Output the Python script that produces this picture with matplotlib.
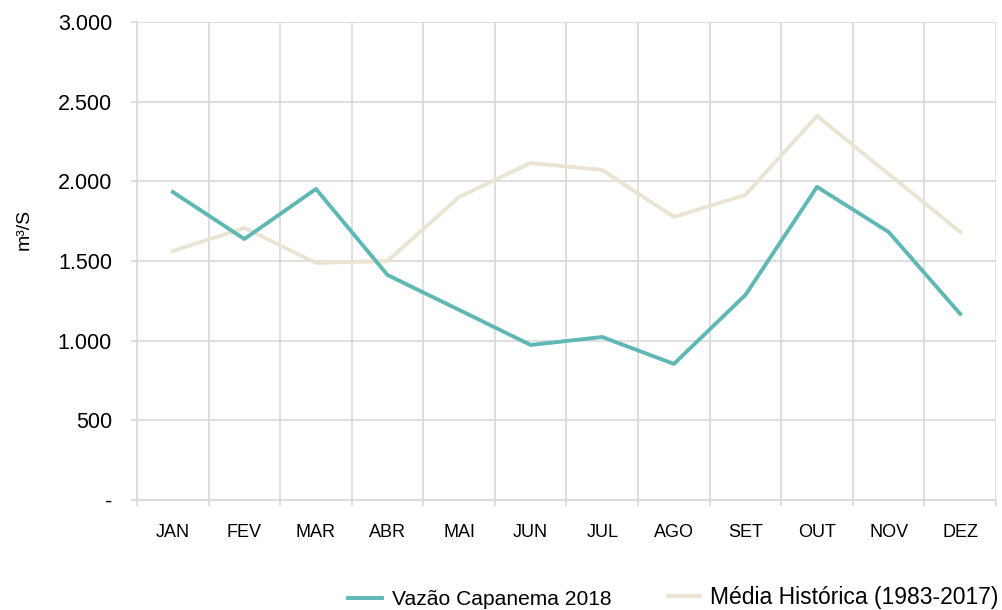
import matplotlib.pyplot as plt
import matplotlib.ticker as mticker
import numpy as np

plt.rcParams['font.family'] = ['Liberation Sans', 'DejaVu Sans']

meses = ['JAN', 'FEV', 'MAR', 'ABR', 'MAI', 'JUN', 'JUL', 'AGO', 'SET', 'OUT', 'NOV', 'DEZ']
vazao_2018 = [1933, 1638, 1952, 1412, 1193, 973, 1023, 854, 1287, 1965, 1682, 1168]
media_historica = [1563, 1707, 1488, 1500, 1902, 2115, 2071, 1776, 1915, 2410, 2046, 1682]

cor_vazao = '#5fb8b4'
cor_media = '#ebe4d3'
cor_grade = '#d9d9d9'

fig = plt.figure(figsize=(10.03, 6.10), dpi=100)
ax = fig.add_axes([0.1366, 0.1803, 0.8564, 0.7837])

x = np.arange(len(meses))
l1, = ax.plot(x, vazao_2018, color=cor_vazao, lw=2.8, label='Vazão Capanema 2018', zorder=3)
l2, = ax.plot(x, media_historica, color=cor_media, lw=2.8, label='Média Histórica (1983-2017)', zorder=2)

ax.set_xlim(-0.5, 11.5)
ax.set_ylim(0, 3000)
ax.set_xticks(x)
ax.set_xticklabels(meses, fontsize=13)
ax.set_xticks(np.arange(-0.5, 12, 1), minor=True)
ax.tick_params(axis='x', which='major', length=0, pad=17)
ax.tick_params(axis='x', which='minor', length=4, color=cor_grade, width=1.2)

ax.set_yticks(np.arange(0, 3001, 500))
ax.yaxis.set_major_formatter(mticker.FuncFormatter(
    lambda v, p: '-' if v == 0 else f'{int(v):,}'.replace(',', '.')))
ax.tick_params(axis='y', length=4, color=cor_grade, width=1.2, labelsize=15.5, pad=14)
ax.set_ylabel('m³/S', fontsize=14)
ax.yaxis.set_label_coords(-0.121, 0.565)

ax.grid(axis='y', which='major', color=cor_grade, lw=1.2)
ax.grid(axis='x', which='minor', color=cor_grade, lw=1.2)
ax.set_axisbelow(True)
for s in ['top', 'right']:
    ax.spines[s].set_visible(False)
for s in ['left', 'bottom']:
    ax.spines[s].set_color(cor_grade)
    ax.spines[s].set_linewidth(1.2)

# two legend entries, drawn separately (the second one is a bit bigger in the original)
fig.legend(handles=[l1], loc='center left', bbox_to_anchor=(0.347, 0.0164), frameon=False,
           fontsize=15.1, handlelength=1.62, handletextpad=0.48, borderpad=0, borderaxespad=0)
fig.legend(handles=[l2], loc='center left', bbox_to_anchor=(0.666, 0.0197), frameon=False,
           fontsize=16.5, handlelength=1.4, handletextpad=0.44, borderpad=0, borderaxespad=0)

fig.savefig('out.png', dpi=100)
